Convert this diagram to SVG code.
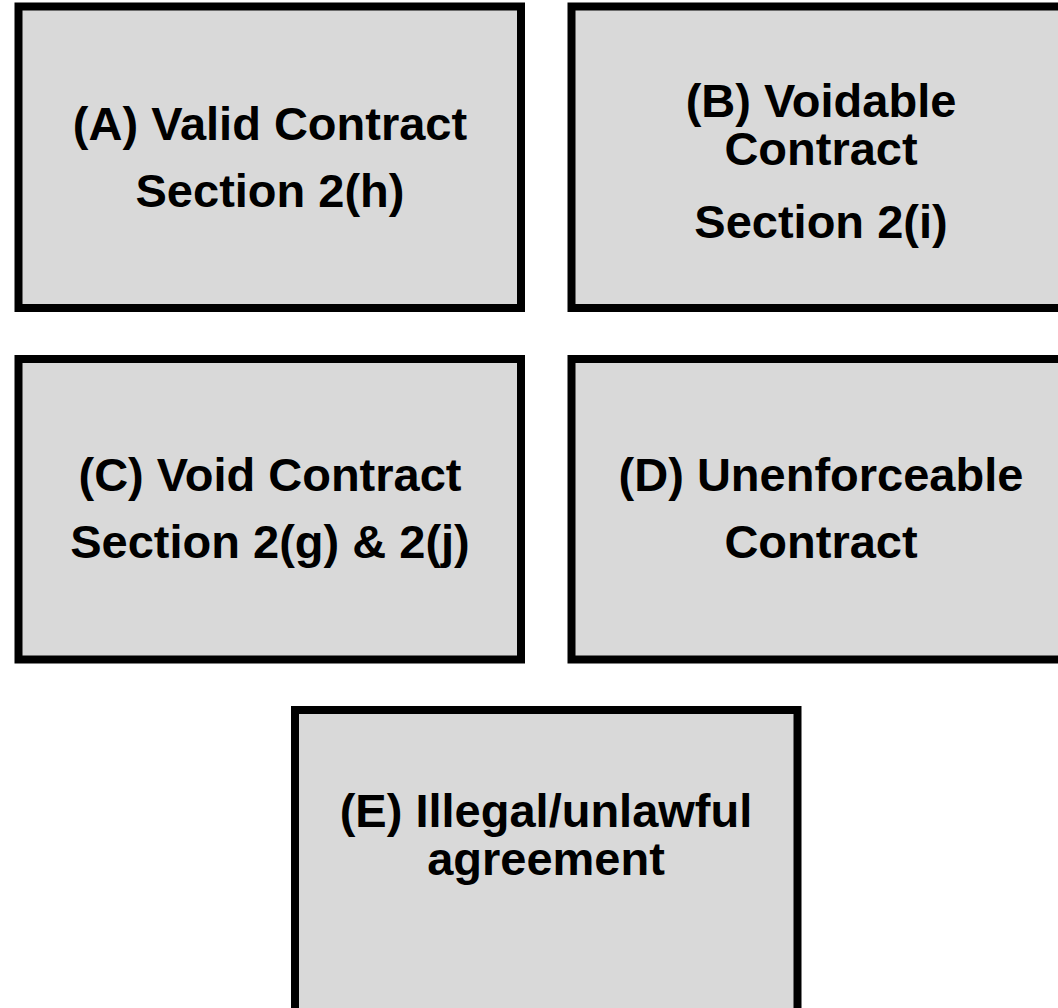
<svg xmlns="http://www.w3.org/2000/svg" width="1058" height="1008" viewBox="0 0 1058 1008">
<style>
.box{fill:#d9d9d9;stroke:#000;stroke-width:8}
.t{font-family:"Liberation Sans",Arial,sans-serif;font-weight:bold;font-size:47px;fill:#000;text-anchor:middle}
</style>
<rect width="1058" height="1008" fill="#fff"/>
<g id="connectors"></g>
<g id="nodeA">
<rect class="box" x="18.5" y="6.5" width="502.5" height="301.5"/>
<text class="t" x="270" y="140">(A) Valid Contract</text>
<text class="t" x="270" y="207">Section 2(h)</text>
</g>
<g id="nodeB">
<rect class="box" x="571.5" y="6.5" width="502.5" height="301.5"/>
<text class="t" x="821" y="117">(B) Voidable</text>
<text class="t" x="821" y="165">Contract</text>
<text class="t" x="821" y="238">Section 2(i)</text>
</g>
<g id="nodeC">
<rect class="box" x="18.5" y="359" width="502.5" height="300.5"/>
<text class="t" x="270" y="491">(C) Void Contract</text>
<text class="t" x="270" y="558">Section 2(g) &amp; 2(j)</text>
</g>
<g id="nodeD">
<rect class="box" x="571.5" y="359" width="502.5" height="300.5"/>
<text class="t" x="821" y="491">(D) Unenforceable</text>
<text class="t" x="821" y="558">Contract</text>
</g>
<g id="nodeE">
<rect class="box" x="295" y="710" width="502.5" height="310"/>
<text class="t" x="546" y="827">(E) Illegal/unlawful</text>
<text class="t" x="546" y="875">agreement</text>
</g>
</svg>
